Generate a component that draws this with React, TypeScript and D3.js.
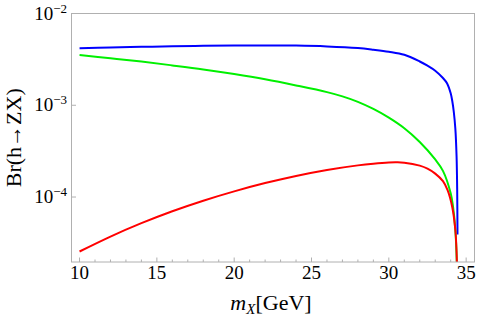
import { useRef, useEffect } from "react";
import * as d3 from "d3";

const W = 489;
const H = 317;
const marginLeft = 71.5;
const marginRight = 14.5;
const marginTop = 13.5;
const marginBottom = 55;

// Br(h -> ZX) vs m_X
const blueX = [10, 12, 14, 16, 18, 20, 22, 24, 26, 28, 29, 30, 31, 32, 32.5, 33, 33.5, 33.77, 34, 34.1, 34.2, 34.3, 34.38, 34.42, 34.44];
const blueY = [4.18e-3, 4.26e-3, 4.33e-3, 4.39e-3, 4.44e-3, 4.47e-3, 4.49e-3, 4.47e-3, 4.38e-3, 4.2e-3, 4.03e-3, 3.83e-3, 3.55e-3, 3.0e-3, 2.7e-3, 2.38e-3, 1.98e-3, 1.73e-3, 1.35e-3, 1.12e-3, 8.5e-4, 5.6e-4, 2.8e-4, 1.2e-4, 3.9e-5];

const greenX = [10, 12, 14, 16, 18, 20, 22, 24, 26, 27, 28, 29, 30, 31, 32, 33, 33.5, 34, 34.15, 34.3, 34.4, 34.45];
const greenY = [3.52e-3, 3.25e-3, 2.99e-3, 2.72e-3, 2.46e-3, 2.19e-3, 1.92e-3, 1.645e-3, 1.39e-3, 1.25e-3, 1.09e-3, 9.12e-4, 7.33e-4, 5.62e-4, 3.98e-4, 2.57e-4, 1.93e-4, 1.1e-4, 7.9e-5, 4.4e-5, 1.8e-5, 1e-6];

const redX = [10, 12, 14, 16, 18, 20, 22, 24, 26, 28, 29, 30, 30.5, 31, 32, 32.5, 33, 33.5, 33.8, 34.1, 34.3, 34.4, 34.45];
const redY = [2.55e-5, 3.71e-5, 5.19e-5, 7.0e-5, 9.12e-5, 1.153e-4, 1.419e-4, 1.698e-4, 1.972e-4, 2.213e-4, 2.31e-4, 2.38e-4, 2.39e-4, 2.37e-4, 2.2e-4, 2.04e-4, 1.8e-4, 1.49e-4, 1.19e-4, 7.8e-5, 4.4e-5, 2e-5, 1e-6];

const xMajor = [10, 15, 20, 25, 30, 35];
const xMinor = d3.range(10, 36, 1);
const yMajor = [1e-4, 1e-3, 1e-2];
const yExp = ["\u22124", "\u22123", "\u22122"];

const series = [
  { xs: blueX, ys: blueY, color: "#0000ff" },
  { xs: greenX, ys: greenY, color: "#00f000" },
  { xs: redX, ys: redY, color: "#ff0000" },
];

const font = "'Liberation Serif', 'Times New Roman', serif";

export default function App() {
  const ref = useRef<SVGSVGElement>(null);

  useEffect(() => {
    const svg = d3.select(ref.current);
    svg.selectAll("*").remove();

    const x = d3.scaleLinear().domain([9.48, 35.54]).range([marginLeft, W - marginRight]);
    const y = d3.scaleLog().domain([Math.pow(10, -4.708), 1e-2]).range([H - marginBottom, marginTop]);

    svg.append("defs").append("clipPath").attr("id", "plot")
      .append("rect")
      .attr("x", marginLeft).attr("y", marginTop)
      .attr("width", W - marginLeft - marginRight)
      .attr("height", H - marginTop - marginBottom);

    const line = d3.line<[number, number]>()
      .x((d) => x(d[0]))
      .y((d) => y(d[1]))
      .curve(d3.curveCatmullRom.alpha(0.5));

    const g = svg.append("g").attr("clip-path", "url(#plot)");
    series.forEach((s) => {
      const pts = s.xs.map((v, i) => [v, s.ys[i]] as [number, number]);
      g.append("path")
        .attr("d", line(pts))
        .attr("fill", "none")
        .attr("stroke", s.color)
        .attr("stroke-width", 2);
    });

    // frame
    svg.append("rect")
      .attr("x", marginLeft).attr("y", marginTop)
      .attr("width", W - marginLeft - marginRight)
      .attr("height", H - marginTop - marginBottom)
      .attr("fill", "none").attr("stroke", "#b0b0b0").attr("stroke-width", 1);

    const yb = H - marginBottom;
    svg.append("g").selectAll("line").data(xMinor).join("line")
      .attr("x1", (d) => x(d)).attr("x2", (d) => x(d))
      .attr("y1", yb).attr("y2", (d) => yb - (d % 5 === 0 ? 4.5 : 2.5))
      .attr("stroke", "#b0b0b0");

    svg.append("g").selectAll("text").data(xMajor).join("text")
      .attr("x", (d) => x(d)).attr("y", 279)
      .attr("text-anchor", "middle")
      .attr("font-family", font).attr("font-size", 19)
      .text((d) => d);

    svg.append("g").selectAll("line").data(yMajor).join("line")
      .attr("x1", marginLeft).attr("x2", marginLeft + 4.5)
      .attr("y1", (d) => y(d)).attr("y2", (d) => y(d))
      .attr("stroke", "#b0b0b0");

    const yl = svg.append("g").selectAll("text").data(yMajor).join("text")
      .attr("x", 67).attr("y", (d) => y(d) + 6)
      .attr("text-anchor", "end")
      .attr("font-family", font).attr("font-size", 19);
    yl.append("tspan").text("10");
    yl.append("tspan").attr("dy", -7).attr("font-size", 13).text((_, i) => yExp[i]);

    const xt = svg.append("text")
      .attr("x", 271).attr("y", 310)
      .attr("text-anchor", "middle")
      .attr("font-family", font).attr("font-size", 22);
    xt.append("tspan").attr("font-style", "italic").text("m");
    xt.append("tspan").attr("font-style", "italic").attr("font-size", 15).attr("dy", 4).text("X");
    xt.append("tspan").attr("dy", -4).text("[GeV]");

    svg.append("text")
      .attr("transform", `translate(21,${(marginTop + yb) / 2}) rotate(-90)`)
      .attr("text-anchor", "middle")
      .attr("font-family", font).attr("font-size", 22)
      .text("Br(h\u2192ZX)");
  }, []);

  return (
    <svg
      ref={ref}
      width={W}
      height={H}
      viewBox={`0 0 ${W} ${H}`}
      style={{ position: "absolute", left: 0, top: 0, background: "#fff" }}
    />
  );
}
